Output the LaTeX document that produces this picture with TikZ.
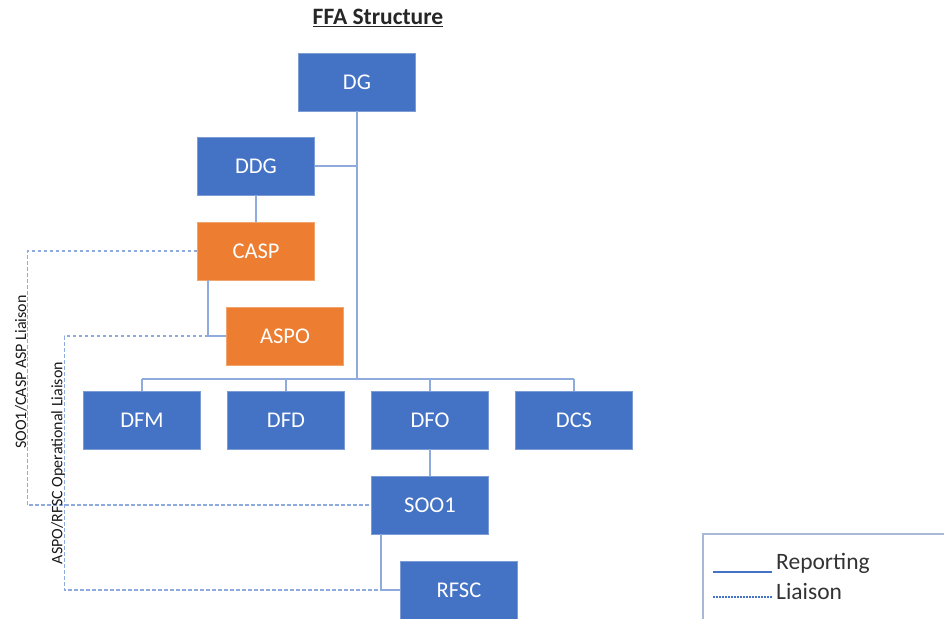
\documentclass[tikz,border=0pt]{standalone}
\usepackage{fontspec}
\setmainfont{Carlito}
\definecolor{boxblue}{HTML}{4472C4}
\definecolor{boxorange}{HTML}{ED7D31}
\definecolor{connblue}{HTML}{8FAADC}
\definecolor{legframe}{HTML}{A9B8D6}
\tikzset{
  orgbox/.style={rectangle, fill=boxblue, draw=boxblue!70!white, line width=0.6pt,
    minimum width=117pt, minimum height=58pt, inner sep=0pt,
    text=white, font=\fontsize{22.5}{27}\selectfont},
  orgorange/.style={orgbox, fill=boxorange, draw=boxorange!70!white},
  conn/.style={draw=connblue, line width=1.5pt},
  liaison/.style={draw=connblue, line width=1.3pt, dash pattern=on 3.5pt off 2.5pt},
  sidelabel/.style={rotate=90, font=\fontsize{16}{19}\selectfont, text=black!90, inner sep=0pt},
  legtext/.style={anchor=west, font=\fontsize{23.5}{28}\selectfont, text=black!80, inner sep=0pt}
}
\begin{document}
\begin{tikzpicture}[x=1pt,y=-1pt]
\useasboundingbox (0,0) rectangle (944,618);
\clip (0,0) rectangle (944,618);

% title
\node[font=\fontsize{23.5}{28}\selectfont\bfseries, text=black!85] (title) at (378,18) {\underline{FFA Structure}};

% boxes
\node[orgbox] (DG) at (357,82) {DG};
\node[orgbox] (DDG) at (256,166) {DDG};
\node[orgorange] (CASP) at (256,251) {CASP};
\node[orgorange] (ASPO) at (285,336) {ASPO};
\node[orgbox] (DFM) at (142,420) {DFM};
\node[orgbox] (DFD) at (286,420) {DFD};
\node[orgbox] (DFO) at (430,420) {DFO};
\node[orgbox] (DCS) at (574,420) {DCS};
\node[orgbox] (SOO1) at (430,505) {SOO1};
\node[orgbox] (RFSC) at (459,590) {RFSC};

% reporting connectors
\coordinate (busC) at (357,379);
\draw[conn] (DG.south) -- (busC);
\draw[conn] (DDG.east) -- (DDG.east -| DG.south);
\draw[conn] (DFM.north |- busC) -- (DCS.north |- busC);
\draw[conn] (DFM.north) -- (DFM.north |- busC);
\draw[conn] (DFD.north) -- (DFD.north |- busC);
\draw[conn] (DFO.north) -- (DFO.north |- busC);
\draw[conn] (DCS.north) -- (DCS.north |- busC);
\draw[conn] (DDG.south) -- (CASP.north);
\draw[conn] ([xshift=11pt]CASP.south west) |- (ASPO.west);
\draw[conn] (DFO.south) -- (SOO1.north);
\draw[conn] ([xshift=10pt]SOO1.south west) |- (RFSC.west);

% liaison connectors
\draw[liaison] (CASP.west) -- ++(-170,0) coordinate (l1) |- (SOO1.west);
\draw[liaison] (ASPO.west) -- ++(-162,0) coordinate (l2) |- (RFSC.west);

% side labels
\node[sidelabel] (lab1) at (21,372) {SOO1/CASP ASP Liaison};
\node[sidelabel] (lab2) at (58,463) {ASPO/RFSC Operational Liaison};

% legend
\coordinate (legTL) at (703,534);
\draw[draw=legframe, line width=1.2pt] (703,640) -- (legTL) -- (960,534);
\coordinate (rs) at (713,572);
\coordinate (re) at (772,572);
\draw[draw=boxblue, line width=1.3pt] (rs) -- (re);
\node[legtext] (rep) at (776,563) {Reporting};
\coordinate (ls) at (713,597);
\coordinate (le) at (772,597);
\draw[draw=boxblue, line width=1.3pt, dash pattern=on 1.5pt off 1.5pt] (ls) -- (le);
\node[legtext] (lia) at (776,591) {Liaison};
\end{tikzpicture}
\end{document}
